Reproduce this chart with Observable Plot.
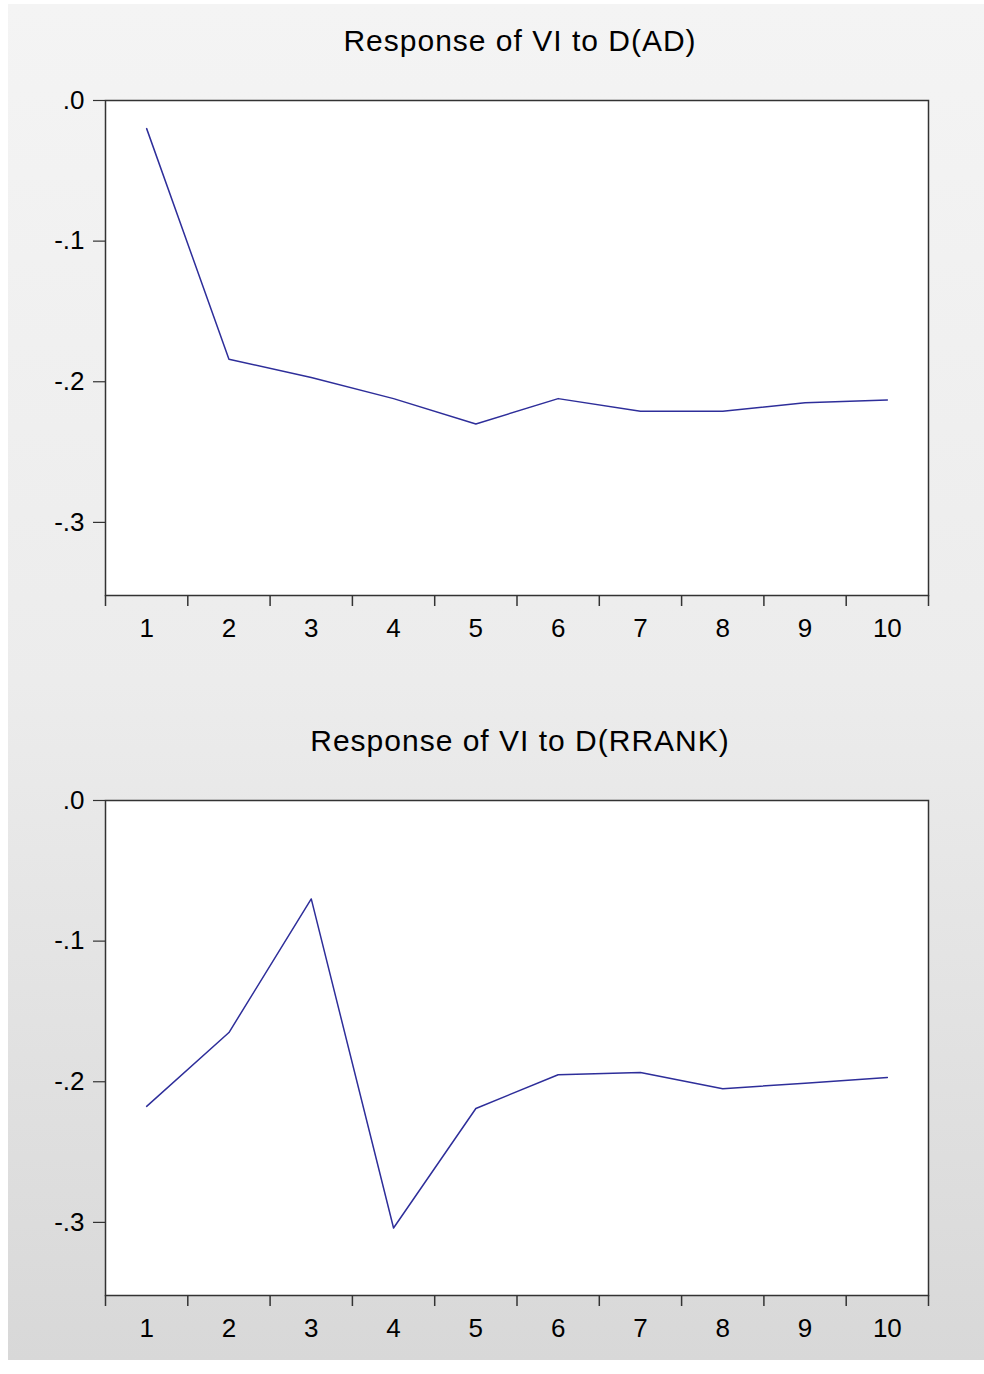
<!DOCTYPE html>
<html>
<head>
<meta charset="utf-8">
<script src="https://cdn.jsdelivr.net/npm/d3@7"></script>
<script src="https://cdn.jsdelivr.net/npm/@observablehq/plot@0.6"></script>
<style>
  html, body { margin: 0; padding: 0; background: #ffffff; }
  body { width: 984px; height: 1374px; position: relative; overflow: hidden; font-family: "Liberation Sans", Arial, sans-serif; }
  #bg { position: absolute; left: 8px; top: 4px; width: 976px; height: 1356px;
        background: linear-gradient(to bottom, #f4f4f4 0%, #ececec 50%, #d8d8d8 100%); }
  .title { position: absolute; left: 0; width: 1040px; text-align: center; font-size: 30px; letter-spacing: 1px; color: #000; line-height: 1; }
  .panel { position: absolute; left: 0; }
</style>
</head>
<body>
<div id="bg"></div>
<div class="title" id="t1"></div>
<div class="title" id="t2"></div>
<div class="panel" id="p1"></div>
<div class="panel" id="p2"></div>
<script>
// ---- data ----
const periods = [1, 2, 3, 4, 5, 6, 7, 8, 9, 10];
const responseAD = [-0.020, -0.184, -0.197, -0.212, -0.230, -0.212, -0.221, -0.221, -0.215, -0.213];
const responseRRANK = [-0.2175, -0.165, -0.070, -0.304, -0.219, -0.195, -0.1935, -0.205, -0.201, -0.197];
const titles = ["Response of VI to D(AD)", "Response of VI to D(RRANK)"];
const yTicks = [0, -0.1, -0.2, -0.3];
const yDomain = [-0.352, 0];
const xBoundaries = [0.5, 1.5, 2.5, 3.5, 4.5, 5.5, 6.5, 7.5, 8.5, 9.5, 10.5];

const fmtY = d => d === 0 ? ".0" : d3.format(".1f")(d).replace("\u2212", "-").replace("0.", ".");

function panel(values) {
  const data = periods.map((p, i) => ({period: p, value: values[i]}));
  return Plot.plot({
    width: 984,
    height: 575,
    marginLeft: 105,
    marginRight: 56,
    marginTop: 30,
    marginBottom: 50,
    style: {background: "transparent", fontFamily: "Liberation Sans, Arial, sans-serif", color: "#000"},
    x: {domain: [0.5, 10.5], axis: null},
    y: {domain: yDomain, axis: null},
    marks: [
      Plot.frame({fill: "white", stroke: null}),
      Plot.axisX({ticks: periods, tickSize: 0, tickPadding: 23, tickFormat: d => String(d), fontSize: 26, fill: "#000", label: null}),
      Plot.axisX({ticks: xBoundaries, tickSize: 11, tickFormat: () => "", stroke: "#333", strokeWidth: 1.5, label: null}),
      Plot.axisY({ticks: yTicks, tickSize: 12, tickPadding: 9, tickFormat: fmtY, fontSize: 26, fill: "#000", stroke: "#333", strokeWidth: 1.2, label: null}),
      Plot.line(data, {x: "period", y: "value", stroke: "#2e2e9a", strokeWidth: 1.5}),
      Plot.frame({stroke: "#333", strokeWidth: 1.5})
    ]
  });
}

document.getElementById("t1").textContent = titles[0];
document.getElementById("t1").style.top = "26px";
document.getElementById("t2").textContent = titles[1];
document.getElementById("t2").style.top = "726px";

const p1 = document.getElementById("p1");
p1.style.top = "70px";
p1.appendChild(panel(responseAD));
const p2 = document.getElementById("p2");
p2.style.top = "770px";
p2.appendChild(panel(responseRRANK));
</script>
</body>
</html>
